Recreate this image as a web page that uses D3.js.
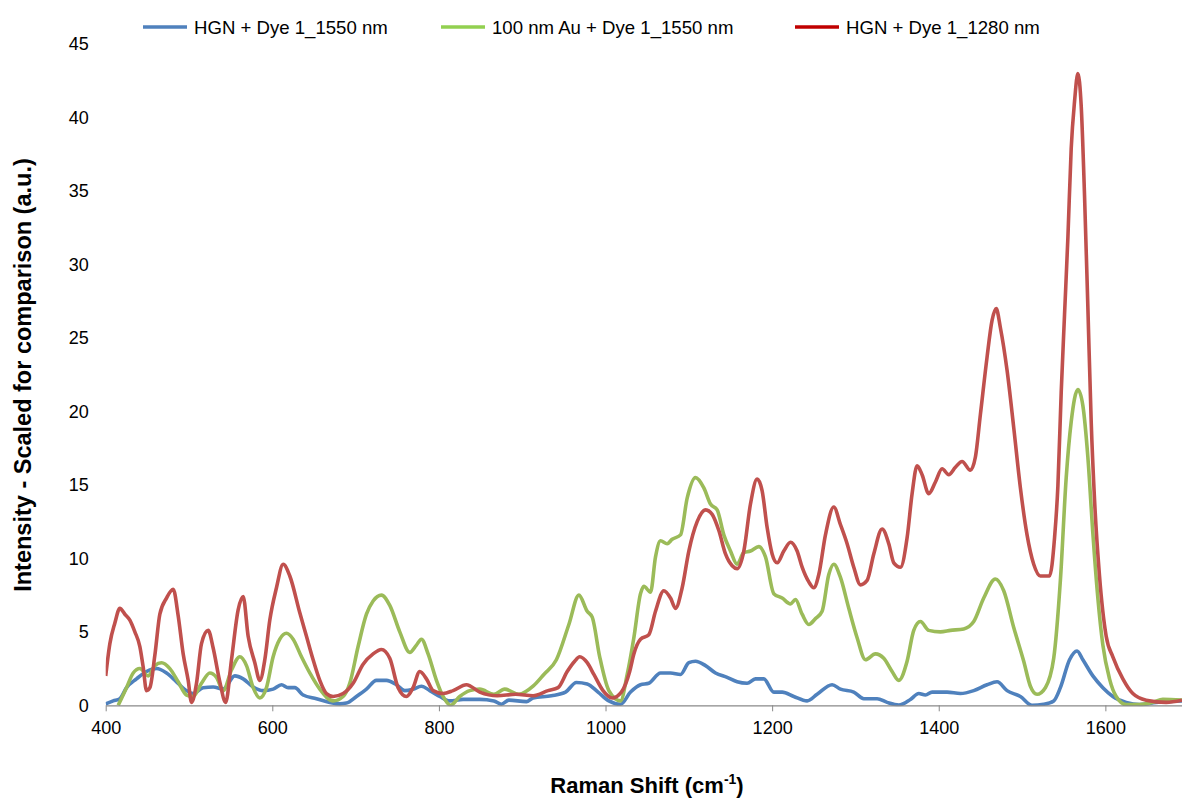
<!DOCTYPE html>
<html>
<head>
<meta charset="utf-8">
<script src="https://cdn.jsdelivr.net/npm/d3@7"></script>
<style>
  body { margin: 0; background: #fff; }
  svg { display: block; font-family: "Liberation Sans", Arial, sans-serif; }
</style>
</head>
<body>
<div id="chart"></div>
<script>
// series names
const seriesNames = ["HGN + Dye 1_1550 nm", "100 nm Au + Dye 1_1550 nm", "HGN + Dye 1_1280 nm"];
const xTicks = [400, 600, 800, 1000, 1200, 1400, 1600];
const yTicks = [0, 5, 10, 15, 20, 25, 30, 35, 40, 45];

// HGN + Dye 1_1550 nm (blue)
const blueShift = [400,409,417,425,437,449,461,473,485,497,505,517,529,541,555,565,577,589,601,611,619,627,637,653,669,681,689,701,713,725,737,749,759,769,779,789,801,813,829,849,866,875,884,905,913,935,952,965,978,991,1004,1018,1030,1042,1052,1066,1078,1090,1100,1108,1120,1132,1146,1158,1170,1180,1190,1202,1212,1226,1242,1254,1272,1282,1298,1310,1326,1338,1352,1366,1376,1384,1392,1410,1426,1442,1458,1470,1482,1498,1512,1526,1538,1546,1557,1566,1573,1585,1597,1609,1625,1641,1661,1692];
const blueInt = [0.1,0.3,0.45,1.2,1.8,2.3,2.5,2.2,1.6,1.0,0.8,1.2,1.25,1.1,2.0,1.8,1.25,1.0,1.1,1.4,1.2,1.2,0.7,0.45,0.2,0.1,0.15,0.6,1.1,1.7,1.7,1.4,1.0,1.1,1.3,1.0,0.6,0.3,0.4,0.4,0.3,0.07,0.35,0.25,0.5,0.65,0.9,1.55,1.45,0.9,0.3,0.07,0.9,1.4,1.5,2.2,2.2,2.1,2.9,3.0,2.7,2.2,1.9,1.6,1.5,1.8,1.8,0.9,0.9,0.6,0.3,0.75,1.4,1.1,0.9,0.45,0.45,0.2,0.02,0.4,0.8,0.7,0.9,0.9,0.8,1.0,1.4,1.6,1.0,0.6,0.0,0.07,0.3,1.2,3.1,3.7,3.1,2.0,1.2,0.6,0.2,0.05,0.2,0.3];

// 100 nm Au + Dye 1_1550 nm (green)
const greenShift = [415,425,433,441,451,459,467,477,487,497,505,515,525,533,541,551,561,569,577,585,593,601,609,617,625,635,645,657,673,685,693,703,713,721,731,741,753,765,773,779,787,797,805,814,825,837,849,866,879,896,913,926,941,956,968,978,984,993,1004,1018,1026,1034,1042,1046,1054,1060,1066,1074,1080,1090,1098,1108,1118,1126,1134,1142,1150,1158,1166,1174,1184,1192,1202,1212,1222,1228,1236,1244,1252,1260,1268,1274,1282,1292,1302,1312,1324,1334,1344,1352,1362,1370,1378,1388,1402,1414,1430,1442,1454,1468,1478,1490,1502,1510,1518,1528,1538,1546,1553,1559,1567,1573,1579,1585,1591,1597,1605,1613,1625,1641,1657,1669,1692];
const greenInt = [0,1.2,2.2,2.5,2.0,2.7,2.9,2.5,1.6,0.7,0.6,1.5,2.2,1.9,1.0,2.4,3.3,2.7,1.2,0.5,1.2,3.3,4.5,4.9,4.5,3.3,2.2,1.1,0.3,0.6,1.5,4.0,6.2,7.1,7.5,6.8,5.0,3.6,4.1,4.5,3.5,1.7,0.6,0,0.6,1.0,1.1,0.75,1.1,0.75,1.3,2.1,3.1,5.5,7.5,6.4,6.0,3.3,1.0,0.3,2.1,4.6,7.6,8.1,7.7,10.1,11.2,11.0,11.3,11.6,14.1,15.5,14.8,13.7,13.3,11.6,10.5,9.6,10.4,10.5,10.8,10.1,7.6,7.3,6.9,7.2,6.2,5.5,5.9,6.4,8.9,9.6,8.7,6.6,4.6,3.1,3.5,3.2,2.3,1.7,3.0,5.1,5.7,5.1,5.0,5.1,5.2,5.7,7.3,8.6,7.8,5.3,3.0,1.3,0.75,1.2,3.2,8.5,15.5,19.3,21.5,20.4,16.9,11.7,7.3,4.1,1.8,0.6,0.05,0.05,0.2,0.4,0.35];

// HGN + Dye 1_1280 nm (red)
const redShift = [400,405,411,417,423,429,435,441,445,449,453,459,465,473,481,487,493,499,503,509,515,523,529,537,544,551,559,565,571,579,585,591,597,605,613,621,633,641,649,657,665,673,685,697,709,721,731,741,751,761,769,777,785,793,805,817,833,849,870,892,913,931,943,954,963,969,978,986,997,1008,1019,1029,1034,1042,1052,1060,1070,1078,1084,1092,1100,1110,1120,1128,1136,1144,1152,1158,1166,1174,1182,1188,1194,1200,1206,1214,1222,1230,1236,1244,1250,1256,1264,1274,1282,1290,1298,1306,1314,1322,1332,1340,1346,1354,1362,1368,1374,1380,1388,1396,1404,1412,1420,1428,1438,1444,1450,1458,1464,1469,1474,1482,1490,1498,1506,1514,1522,1533,1539,1543,1547,1551,1555,1559,1563,1567,1571,1575,1579,1583,1587,1593,1601,1609,1621,1633,1649,1673,1692];
const redInt = [2.0,4.2,5.6,6.6,6.2,5.8,5.0,4.0,2.6,1.0,1.2,3.4,6.2,7.3,7.9,6.1,3.5,1.7,0.2,1.5,4.2,5.1,3.9,1.6,0.2,3.1,6.5,7.4,4.7,2.9,1.7,3.1,5.8,8.0,9.6,8.8,6.3,4.7,3.1,1.7,0.8,0.6,0.8,1.5,2.8,3.5,3.8,3.2,1.2,0.6,1.2,2.3,1.8,1.0,0.8,1.0,1.4,0.9,0.65,0.75,0.65,1.0,1.2,2.3,3.0,3.3,2.9,2.1,1.0,0.5,0.9,2.3,3.5,4.5,4.8,6.4,7.8,7.3,6.6,8.0,10.5,12.5,13.3,13.0,11.9,10.3,9.5,9.3,10.5,13.7,15.4,14.6,12.1,10.3,9.7,10.5,11.1,10.5,9.4,8.4,8.0,8.9,11.6,13.5,12.3,11.0,9.4,8.2,8.5,10.3,12.0,11.0,9.7,9.4,11.4,14.4,16.3,15.7,14.4,15.2,16.1,15.7,16.2,16.6,16.0,16.9,19.8,23.7,26.2,27.0,25.7,22.8,18.9,14.8,11.6,9.6,8.8,8.8,11.4,14.9,21.3,26.6,31.8,37.9,41.1,43.0,40.8,34.7,27.1,19.3,14.0,8.8,4.7,3.3,1.8,0.8,0.35,0.2,0.35];

const lineColors = ["#4f81bd", "#9bbb59", "#c0504d"];
const legendColors = ["#4f81bd", "#92d050", "#c00000"];

const W = 1182, H = 800;
const svg = d3.select("#chart").append("svg")
  .attr("width", W)
  .attr("height", H);

// scales
const x = d3.scaleLinear().domain([400, 1692]).range([105.7, 1182]);
const y = d3.scaleLinear().domain([0, 45]).range([705.3, 44.2]);

// y tick labels (no axis line in the original)
const yAxis = svg.append("g")
  .attr("transform", "translate(105.7,0)")
  .call(d3.axisLeft(y).tickValues(yTicks).tickSize(0).tickPadding(17));
yAxis.select(".domain").remove();
yAxis.selectAll("text")
  .attr("font-size", 18)
  .attr("font-family", "Liberation Sans, Arial, sans-serif")
  .attr("fill", "#000");

// series lines
const line = d3.line()
  .x(d => x(d[0]))
  .y(d => y(d[1]))
  .curve(d3.curveMonotoneX);

svg.append("clipPath").attr("id", "plotclip")
  .append("rect").attr("x", 105.7).attr("y", 30).attr("width", 1182 - 105.7).attr("height", 705.3 - 30 + 1);

const allSeries = [
  d3.zip(blueShift, blueInt),
  d3.zip(greenShift, greenInt),
  d3.zip(redShift, redInt)
];

svg.append("g").attr("clip-path", "url(#plotclip)")
  .selectAll("path")
  .data(allSeries)
  .join("path")
    .attr("d", line)
    .attr("fill", "none")
    .attr("stroke", (d, i) => lineColors[i])
    .attr("stroke-width", 3.6)
    .attr("stroke-linejoin", "round");

// x axis
const xAxis = svg.append("g")
  .attr("transform", "translate(0,705.3)")
  .call(d3.axisBottom(x).tickValues(xTicks).tickFormat(d3.format("d"))
    .tickSize(6).tickPadding(10).tickSizeOuter(0));
xAxis.select(".domain").attr("stroke", "#898989").attr("stroke-width", 1.2);
xAxis.selectAll(".tick line").attr("stroke", "#898989");
xAxis.selectAll("text")
  .attr("font-size", 18)
  .attr("font-family", "Liberation Sans, Arial, sans-serif")
  .attr("fill", "#000");

// axis titles
svg.append("text")
  .attr("transform", "translate(31,375) rotate(-90)")
  .attr("text-anchor", "middle")
  .attr("font-size", 23.5)
  .attr("font-weight", "bold")
  .text("Intensity - Scaled for comparison (a.u.)");

const xt = svg.append("text")
  .attr("x", 647)
  .attr("y", 793)
  .attr("text-anchor", "middle")
  .attr("font-size", 22)
  .attr("font-weight", "bold");
xt.append("tspan").text("Raman Shift (cm");
xt.append("tspan").attr("font-size", 14).attr("dy", -9).text("-1");
xt.append("tspan").attr("dy", 9).text(")");

// legend
const legendX = [143, 441, 795];
const legend = svg.append("g").selectAll("g")
  .data(seriesNames)
  .join("g")
    .attr("transform", (d, i) => `translate(${legendX[i]},27)`);
legend.append("line")
  .attr("x1", 0).attr("x2", 44)
  .attr("stroke", (d, i) => legendColors[i])
  .attr("stroke-width", 3.6);
legend.append("text")
  .attr("x", 51)
  .attr("dy", "0.35em")
  .attr("font-size", 18.6)
  .text(d => d);
</script>
</body>
</html>
